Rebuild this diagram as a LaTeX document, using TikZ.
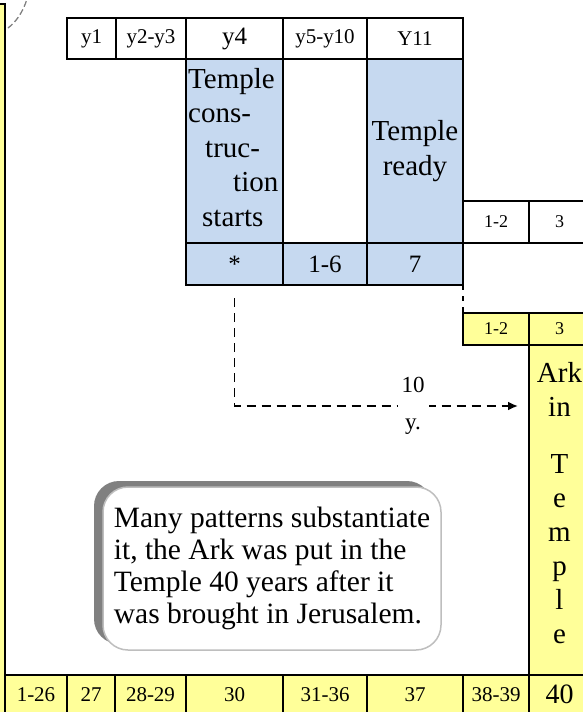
\documentclass[tikz,border=0pt]{standalone}
\usepackage{fontspec}
\setmainfont{Liberation Serif}
\usepackage{tikz}
\usetikzlibrary{
	arrows.meta,
	positioning,
	shadows
}
\usepackage{xcolor}

\definecolor{templeblue}{RGB}{198,217,240}
\definecolor{arkyellow}{RGB}{255,255,153}
\definecolor{shadowgray}{RGB}{128,128,128}
\definecolor{framegray}{RGB}{190,190,190}

\newcommand{\fsz}[2]{\fontsize{#1}{#2}\selectfont}

\begin{document}
\begin{tikzpicture}[x=1pt,y=-1pt,
		cell/.style={draw, line width=1.6pt, inner sep=0pt, outer sep=0pt, font=\fsz{21}{25}},
		bluecell/.style={cell, fill=templeblue},
		yellowcell/.style={cell, fill=arkyellow},
		yearrow/.style={minimum height=41pt},
		smallcell/.style={font=\fsz{18}{21}},
		bigtext/.style={font=\fsz{29}{35}, align=center}
	]
		
		\useasboundingbox (0,0) rectangle (583,712);
		
		% Left strip
		\fill[arkyellow] (-5,4) rectangle (5,712);
		\draw[line width=1.6pt] (0,4) -- (5,4) -- (5,712);
		\draw[shadowgray, line width=1.3pt, dash pattern=on 6pt off 3pt]
		(8,28) .. controls (16,22) and (23,12) .. (27,-1);
		
		% Years of the Temple
		\node[cell, yearrow, minimum width=49pt, anchor=north west] (y1) at (67,18) {y1};
		\node[cell, yearrow, minimum width=70pt, right=0pt of y1] (y23) {y2-y3};
		\node[cell, yearrow, minimum width=97pt, right=0pt of y23, font=\fsz{25}{28}] (y4) {y4};
		\node[cell, yearrow, minimum width=84pt, right=0pt of y4] (y510) {y5-y10};
		\node[cell, yearrow, minimum width=96pt, right=0pt of y510] (y11) {Y11};
		
		\node[bluecell, minimum width=97pt, minimum height=184pt, below=0pt of y4] (tstart) {};
		\node[cell, minimum width=84pt, minimum height=184pt, right=0pt of tstart] (tgap) {};
		\node[bluecell, bigtext, minimum width=96pt, minimum height=184pt, right=0pt of tgap] (tready) {Temple\\ready};
		
		\node[anchor=north west, inner sep=0pt, align=left, font=\fsz{29}{34.5}] (starttext)
		at ([xshift=2pt, yshift=-9pt]tstart.north west)
		{Temple\\cons-\\\hspace*{17pt}truc-\\\hspace*{45pt}tion\\\hspace*{14pt}starts};
		
		\node[bluecell, minimum width=97pt, minimum height=42pt, below=0pt of tstart, font=\fsz{25}{28}] (star) {*};
		\node[bluecell, minimum width=84pt, minimum height=42pt, right=0pt of star, font=\fsz{25}{28}] (onesix) {1-6};
		\node[bluecell, minimum width=96pt, minimum height=42pt, right=0pt of onesix, font=\fsz{25}{28}] (seven) {7};
		
		\node[cell, smallcell, minimum width=66pt, minimum height=42pt, anchor=south west] (w12) at (tready.south east) {1-2};
		\node[cell, smallcell, minimum width=61pt, minimum height=42pt, right=0pt of w12] (w3) {3};
		
		% The Ark
		\node[yellowcell, smallcell, minimum width=66pt, minimum height=32pt, anchor=north west] (ark12) at (463,313) {1-2};
		\node[yellowcell, smallcell, minimum width=61pt, minimum height=32pt, right=0pt of ark12] (ark3) {3};
		\node[yellowcell, minimum width=61pt, minimum height=330pt, below=0pt of ark3] (arkcol) {};
		\node[anchor=north, inner sep=0pt, align=center, font=\fsz{29}{34}] (arktext)
		at ([yshift=-17pt]arkcol.north) {Ark\\in\\[23pt]T\\e\\m\\p\\l\\e};
		
		\draw[line width=1.8pt, dash pattern=on 5pt off 6pt] (seven.south east) -- (ark12.north west);
		
		% Bottom row
		\node[yellowcell, minimum width=62pt, minimum height=39pt, anchor=north west] (b126) at (5,675) {1-26};
		\node[yellowcell, minimum width=48pt, minimum height=39pt, right=0pt of b126] (b27) {27};
		\node[yellowcell, minimum width=71pt, minimum height=39pt, right=0pt of b27] (b2829) {28-29};
		\node[yellowcell, minimum width=97pt, minimum height=39pt, right=0pt of b2829] (b30) {30};
		\node[yellowcell, minimum width=84pt, minimum height=39pt, right=0pt of b30] (b3136) {31-36};
		\node[yellowcell, minimum width=96pt, minimum height=39pt, right=0pt of b3136] (b37) {37};
		\node[yellowcell, minimum width=66pt, minimum height=39pt, right=0pt of b37] (b3839) {38-39};
		\node[yellowcell, minimum width=61pt, minimum height=39pt, right=0pt of b3839, font=\fsz{28}{30}] (b40) {40};
		
		% Ten years
		\coordinate (arrowend) at (518,406);
		\draw[line width=1.9pt, dash pattern=on 9pt off 6pt, -{Latex[length=10pt,width=9pt]}, shorten <=13pt]
		(star.south) |- (arrowend);
		\node[fill=white, inner sep=4pt, align=center, font=\fsz{23}{37}] (tenyears) at (413,406) {10\\y.};
		
		% Note
		\node[draw=framegray, line width=1.5pt, fill=white, rounded corners=25pt,
		minimum width=338pt, minimum height=163pt, align=left, font=\fsz{29.5}{31.8},
		drop shadow={shadow xshift=-9pt, shadow yshift=6pt, fill=shadowgray, opacity=1}]
		(note) at (272,568.5)
		{Many patterns substantiate\\it, the Ark was put in the\\Temple 40 years after it\\was brought in Jerusalem.};
		
	\end{tikzpicture}
\end{document}
